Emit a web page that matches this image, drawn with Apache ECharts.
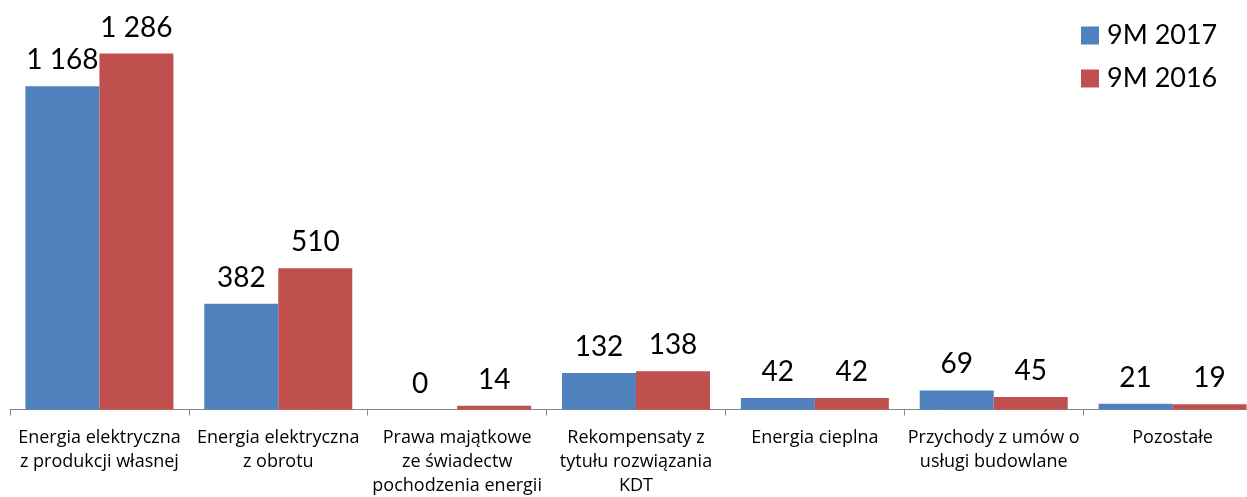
<!DOCTYPE html>
<html>
<head>
<meta charset="utf-8">
<script src="https://cdn.jsdelivr.net/npm/echarts@6/dist/echarts.min.js"></script>
<style>
  html, body { margin: 0; padding: 0; background: #fff; }
  #chart { width: 1247px; height: 497px; }
</style>
</head>
<body>
<div id="chart"></div>
<script>
// Revenue categories (line breaks as printed under the axis)
const categories = [
  'Energia elektryczna\nz produkcji własnej',
  'Energia elektryczna\nz obrotu',
  'Prawa majątkowe\nze świadectw\npochodzenia energii',
  'Rekompensaty z\ntytułu rozwiązania\nKDT',
  'Energia cieplna',
  'Przychody z umów o\nusługi budowlane',
  'Pozostałe'
];
const seriesNames = ['9M 2017', '9M 2016'];
const values2017 = [1168, 382, 0, 132, 42, 69, 21];
const values2016 = [1286, 510, 14, 138, 42, 45, 19];

const colors = ['#4F81BD', '#C0504D'];
const font = 'Lato, "Open Sans", sans-serif';
const labelFont = '"Open Sans", Lato, sans-serif';

// Thousands separated by a space, Polish style
const fmt = v => String(v).replace(/\B(?=(\d{3})+(?!\d))/g, ' ');

const chart = echarts.init(document.getElementById('chart'), null, { renderer: 'canvas' });

const makeSeries = (name, data, color) => ({
  name,
  type: 'bar',
  data,
  barWidth: 74,
  barGap: '0%',
  itemStyle: { color },
  label: {
    show: true,
    position: 'top',
    distance: 12,
    color: '#000',
    fontFamily: font,
    fontSize: 28,
    formatter: p => fmt(p.value)
  }
});

chart.setOption({
  animation: false,
  color: colors,
  // the last category runs a little past the right edge of the canvas
  grid: {
    left: 10, top: 22, width: 1252, height: 387.5,
    containLabel: false,
    outerBoundsMode: 'none'
  },
  legend: {
    orient: 'vertical',
    left: 1076,
    top: 17,
    itemWidth: 18,
    itemHeight: 18,
    itemGap: 16,
    icon: 'rect',
    textStyle: { fontFamily: font, fontSize: 27, color: '#000', padding: [0, 0, 0, 3] },
    data: seriesNames
  },
  xAxis: {
    type: 'category',
    data: categories,
    boundaryGap: true,
    axisLine: { lineStyle: { color: '#868686', width: 1 } },
    axisTick: { show: true, length: 6, lineStyle: { color: '#868686' } },
    axisLabel: {
      interval: 0,
      margin: 16,
      color: '#000',
      fontFamily: labelFont,
      fontSize: 18,
      lineHeight: 24
    }
  },
  yAxis: {
    type: 'value',
    min: 0,
    max: 1400,
    show: false,
    splitLine: { show: false }
  },
  series: [
    makeSeries(seriesNames[0], values2017, colors[0]),
    makeSeries(seriesNames[1], values2016, colors[1])
  ]
});
</script>
</body>
</html>
